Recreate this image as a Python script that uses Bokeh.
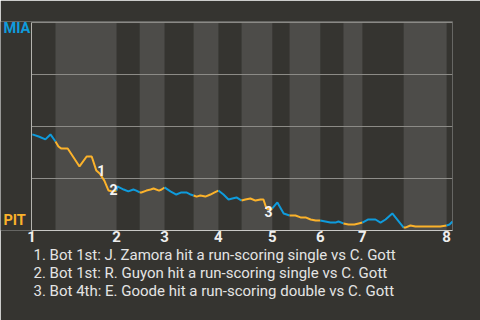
from bokeh.plotting import figure
from bokeh.models import FixedTicker, Title
from bokeh.core.properties import value
from bokeh.embed import file_html
from bokeh.resources import INLINE

# ---- data -------------------------------------------------------------
# game progress (0-100) and MIA win probability (%)
play_x = [0.2, 1.7, 3.3, 4.5, 5.7,
          6.4, 7.1, 8.6, 10.0, 11.4, 13.1, 14.3, 15.4, 16.2, 17.3, 18.3, 19.2, 20.2,
          20.4, 21.9, 23.0, 24.2, 24.9, 25.7,
          26.1, 27.3, 28.3, 29.0, 30.3, 30.9, 31.6,
          33.0, 34.4, 35.6, 36.8, 37.8, 38.5,
          39.2, 40.1, 41.3, 42.5, 43.5, 44.4,
          45.6, 46.8, 47.7, 48.7, 49.9,
          50.8, 52.0, 53.2, 54.4, 55.1, 55.8, 56.8, 57.2,
          58.4, 59.9, 61.3,
          62.7, 63.9, 65.1, 66.3, 67.5, 68.6,
          69.8, 71.0, 72.2, 72.9, 74.1,
          75.3, 76.7, 77.7, 78.6,
          80.0, 81.7, 82.9, 84.1, 85.7, 88.4,
          88.8, 90.0, 91.2, 94.8, 97.1, 98.6,
          99.3, 100.0]
mia_wp = [46.2, 45.2, 43.8, 46.2, 42.8,
          40.4, 39.4, 39.4, 35.1, 30.8, 35.6, 35.6, 28.8, 27.4, 24.0, 19.2, 18.8, 19.2,
          21.2, 19.7, 18.8, 19.7, 19.2, 18.3,
          18.3, 19.2, 19.7, 20.2, 19.2, 19.7, 20.7,
          18.8, 17.3, 18.3, 18.3, 17.3, 16.8,
          16.3, 16.8, 16.3, 17.3, 18.3, 19.2,
          17.3, 14.9, 15.4, 15.9, 14.4,
          14.9, 15.4, 14.4, 14.9, 14.9, 10.6, 10.1, 10.6,
          13.5, 8.2, 7.2,
          7.2, 6.3, 6.3, 5.3, 4.8, 4.8,
          4.3, 3.8, 3.8, 4.3, 3.4,
          2.9, 2.9, 3.4, 3.8,
          5.3, 5.3, 3.8, 5.3, 8.2, 1.4,
          1.4, 2.4, 1.9, 1.9, 1.9, 2.4,
          2.9, 4.3]
half_inning = ([0] * 5 + [1] * 13 + [2] * 6 + [3] * 7 + [4] * 6 + [5] * 6 + [6] * 5 +
               [7] * 8 + [8] * 3 + [9] * 6 + [10] * 5 + [11] * 4 + [12] * 6 + [13] * 6 + [14] * 2)

inning_starts = [0, 20.2, 31.6, 44.4, 57.2, 68.6, 78.6, 98.6]
bottom_starts = [5.7, 25.7, 38.5, 49.9, 61.3, 74.1, 88.4]
inning_labels = ["1", "2", "3", "4", "5", "6", "7", "8"]
grid_levels = [25, 50, 75, 100]

teams = ["MIA", "PIT"]
team_wp = [100, 0]

event_x = [16.6, 19.5, 56.3]
event_wp = [28.8, 19.7, 9.1]
event_labels = ["1", "2", "3"]
event_notes = [
    "1. Bot 1st: J. Zamora hit a run-scoring single vs C. Gott",
    "2. Bot 1st: R. Guyon hit a run-scoring single vs C. Gott",
    "3. Bot 4th: E. Goode hit a run-scoring double vs C. Gott",
]

# ---- style ------------------------------------------------------------
BG = "#353430"
BAND = "#4d4c49"
BLUE = "#0f9bdc"
GOLD = "#fbb22b"
FONT = "Roboto"
X_LEFT = -31 * 100 / 421      # frame extends left over the team-label gutter

p = figure(width=480, height=320, x_range=(X_LEFT, 100), y_range=(0, 100.5),
           output_backend="svg", toolbar_location=None,
           min_border_left=0, min_border_right=28, min_border_top=21, min_border_bottom=90,
           background_fill_color=BG, border_fill_color=BG, outline_line_color=None)

# bottom-half bands
band_right = inning_starts[1:len(bottom_starts) + 1]
p.quad(left=bottom_starts, right=band_right, bottom=0, top=100,
       fill_color=BAND, line_color=None)

# horizontal grid lines over the plot area only
p.xgrid.visible = False
p.ygrid.visible = False
p.segment(x0=0, x1=100, y0=grid_levels, y1=grid_levels, line_color="#8e8d89", line_width=1)

p.yaxis.visible = False
p.segment(x0=[0], x1=[0], y0=[0], y1=[100], line_color="#b5b4af", line_width=1)

ax = p.xaxis[0]
ax.bounds = (0, 100)
ax.ticker = FixedTicker(ticks=inning_starts)
ax.major_label_overrides = {t: l for t, l in zip(inning_starts, inning_labels)}
ax.major_label_text_align = "left"
ax.major_label_text_font = FONT
ax.major_label_text_font_style = "bold"
ax.major_label_text_font_size = "15px"
ax.major_label_text_color = "#eeeeee"
ax.major_label_standoff = -6
ax.major_tick_line_color = None
ax.minor_tick_line_color = None
ax.axis_line_color = "#c8c8c5"

# win-probability line, coloured by half inning
xs, ys, cols = [], [], []
n_half = max(half_inning) + 1
prev = None
for h in range(n_half):
    idx = [i for i, hh in enumerate(half_inning) if hh == h]
    sx = [play_x[i] for i in idx]
    sy = [mia_wp[i] for i in idx]
    if prev is not None:
        sx = [play_x[prev]] + sx
        sy = [mia_wp[prev]] + sy
    xs.append(sx)
    ys.append(sy)
    cols.append(BLUE if h % 2 == 0 else GOLD)
    prev = idx[-1]
p.multi_line(xs=xs, ys=ys, line_color=cols, line_width=2)

# event markers
p.text(x=event_x, y=event_wp, text=event_labels, text_font=value(FONT),
       text_font_style="bold", text_font_size="14px", text_color="#f4f4f4",
       text_align="center", text_baseline="middle")

# team labels at the ends of the probability scale
p.text(x=[X_LEFT + 0.7] * 2, y=team_wp, text=teams, text_font=value(FONT),
       text_font_style="bold", text_font_size="14.5px", text_color=[BLUE, GOLD],
       text_align="left", text_baseline="middle", y_offset=[5.5, -10.5])

# notes below the axis
for i, note in enumerate(event_notes):
    p.add_layout(Title(text=note, align="left", offset=33, standoff=-2,
                       text_font=FONT, text_font_style="normal", text_font_size="15px",
                       text_color="#e4e4e4"), "below")

open("out.html", "w").write(file_html(p, INLINE))
